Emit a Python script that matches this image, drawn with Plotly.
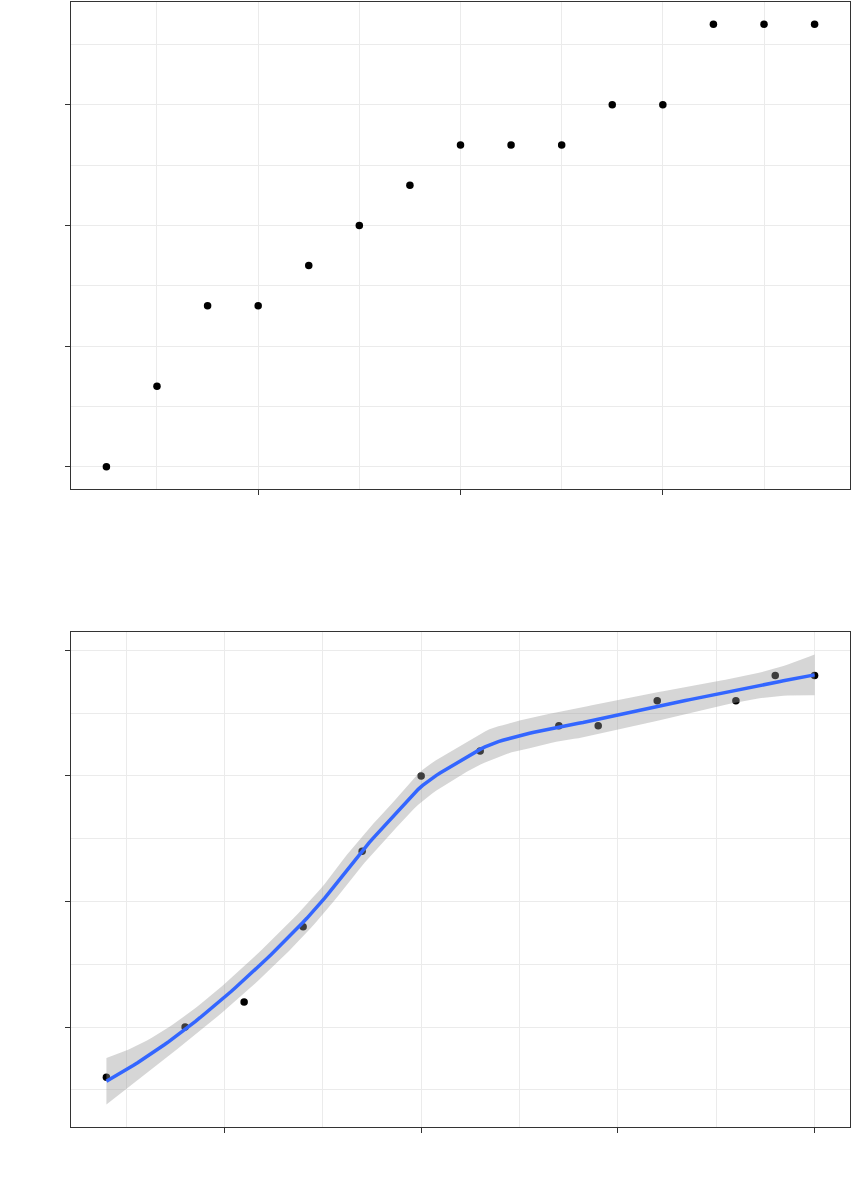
import numpy as np
import plotly.graph_objects as go

# ---------------- data ----------------
top_x = [1, 2, 3, 4, 5, 6, 7, 8, 9, 10, 11, 12, 13, 14, 15]
top_y = [0, 2, 4, 4, 5, 6, 7, 8, 8, 8, 9, 9, 11, 11, 11]
top_xticks = [4, 8, 12]
top_xminor = [2, 6, 10, 14]
top_yticks = [0, 3, 6, 9]
top_yminor = [1.5, 4.5, 7.5, 10.5]

bot_x = [4, 8, 11, 14, 17, 20, 23, 27, 29, 32, 36, 38, 40]
bot_y = [8, 10, 11, 14, 17, 20, 21, 22, 22, 23, 23, 24, 24]
bot_xticks = [10, 20, 30, 40]
bot_xminor = [5, 15, 25, 35]
bot_yticks = [10, 15, 20, 25]
bot_yminor = [7.5, 12.5, 17.5, 22.5]


# ---------------- loess (span 0.75, degree 2), as geom_smooth ----------------
def loess_operator(x, x0, span=0.75):
    x = np.asarray(x, float)
    n = len(x)
    q = int(np.floor(n * span))
    rows = []
    for p in np.atleast_1d(x0):
        d = np.abs(x - p)
        h = np.sort(d)[q - 1]
        u = np.clip(d / h, 0, 1)
        w = (1 - u ** 3) ** 3
        X = np.column_stack([np.ones(n), x - p, (x - p) ** 2])
        XtW = X.T * w
        A = XtW @ X
        rows.append(np.linalg.solve(A, XtW)[0])
    return np.array(rows)


def t_quantile(p, df):
    # normal quantile (Acklam) + Cornish-Fisher expansion for Student t
    a = [-3.969683028665376e+01, 2.209460984245205e+02, -2.759285104469687e+02,
         1.383577518672690e+02, -3.066479806614716e+01, 2.506628277459239e+00]
    b = [-5.447609879822406e+01, 1.615858368580409e+02, -1.556989798598866e+02,
         6.680131188771972e+01, -1.328068155288572e+01]
    c = [-7.784894002430293e-03, -3.223964580411365e-01, -2.400758277161838e+00,
         -2.549732539343734e+00, 4.374664141464968e+00, 2.938163982698783e+00]
    dd = [7.784695709041462e-03, 3.224671290700398e-01, 2.445134137142996e+00,
          3.754408661907416e+00]
    plow = 0.02425
    if p > 1 - plow:
        qq = np.sqrt(-2 * np.log(1 - p))
        z = -(((((c[0]*qq+c[1])*qq+c[2])*qq+c[3])*qq+c[4])*qq+c[5]) / \
            ((((dd[0]*qq+dd[1])*qq+dd[2])*qq+dd[3])*qq+1)
    else:
        qq = p - 0.5
        r = qq * qq
        z = (((((a[0]*r+a[1])*r+a[2])*r+a[3])*r+a[4])*r+a[5])*qq / \
            (((((b[0]*r+b[1])*r+b[2])*r+b[3])*r+b[4])*r+1)
    g1 = (z**3 + z) / 4
    g2 = (5*z**5 + 16*z**3 + 3*z) / 96
    g3 = (3*z**7 + 19*z**5 + 17*z**3 - 15*z) / 384
    g4 = (79*z**9 + 776*z**7 + 1482*z**5 - 1920*z**3 - 945*z) / 92160
    return z + g1/df + g2/df**2 + g3/df**3 + g4/df**4


bx = np.asarray(bot_x, float)
by = np.asarray(bot_y, float)
L = loess_operator(bx, bx)
resid = by - L @ by
IL = np.eye(len(bx)) - L
M = IL.T @ IL
one_delta = np.trace(M)
two_delta = np.trace(M @ M)
sigma = np.sqrt(np.sum(resid ** 2) / one_delta)
df = one_delta ** 2 / two_delta

xs = np.linspace(bx.min(), bx.max(), 160)
Ls = loess_operator(bx, xs)
fit = Ls @ by
se = sigma * np.sqrt(np.sum(Ls ** 2, axis=1))
tq = t_quantile(0.975, df)
lo = fit - tq * se
hi = fit + tq * se


def expand(lo_v, hi_v, m=0.05):
    r = hi_v - lo_v
    return [lo_v - m * r, hi_v + m * r]


# ---------------- figure ----------------
fig = go.Figure()

fig.add_trace(go.Scatter(x=top_x, y=top_y, mode="markers",
                         marker=dict(color="black", size=7.5),
                         xaxis="x", yaxis="y", showlegend=False,
                         hoverinfo="skip"))

fig.add_trace(go.Scatter(x=bot_x, y=bot_y, mode="markers",
                         marker=dict(color="black", size=7.5),
                         xaxis="x2", yaxis="y2", showlegend=False,
                         hoverinfo="skip"))

fig.add_trace(go.Scatter(x=np.concatenate([xs, xs[::-1]]),
                         y=np.concatenate([hi, lo[::-1]]),
                         fill="toself", fillcolor="rgba(153,153,153,0.4)",
                         line=dict(width=0), mode="lines",
                         xaxis="x2", yaxis="y2", showlegend=False,
                         hoverinfo="skip"))

fig.add_trace(go.Scatter(x=xs, y=fit, mode="lines",
                         line=dict(color="#3366FF", width=3.5),
                         xaxis="x2", yaxis="y2", showlegend=False,
                         hoverinfo="skip"))

border = "#333333"
grid = "#EBEBEB"


def ax(rng, ticks, minor, domain, anchor):
    return dict(range=rng, domain=domain, anchor=anchor,
                tickmode="array", tickvals=ticks, showticklabels=False,
                ticks="outside", ticklen=5, tickwidth=1.3, tickcolor=border,
                showgrid=True, gridcolor=grid, gridwidth=1.3,
                minor=dict(tickmode="array", tickvals=minor, showgrid=True,
                           gridcolor=grid, gridwidth=0.7, ticks=""),
                showline=True, linecolor=border, linewidth=1.3, mirror=True,
                zeroline=False)


top_dom = [(1127 - 489) / 1125, 1.0]
bot_dom = [0.0, (1127 - 632) / 1125]

fig.update_layout(
    width=853, height=1186,
    margin=dict(l=71, r=3, t=2, b=59),
    paper_bgcolor="white", plot_bgcolor="white",
    showlegend=False,
    xaxis=ax(expand(min(top_x), max(top_x)), top_xticks, top_xminor, [0, 1], "y"),
    yaxis=ax(expand(min(top_y), max(top_y)), top_yticks, top_yminor, top_dom, "x"),
    xaxis2=ax(expand(min(bot_x), max(bot_x)), bot_xticks, bot_xminor, [0, 1], "y2"),
    yaxis2=ax(expand(min(lo.min(), by.min()), max(hi.max(), by.max())),
              bot_yticks, bot_yminor, bot_dom, "x2"),
)

fig.write_html(
    "out.html",
    config={"displayModeBar": False},
    post_script="document.body.style.margin='0';document.body.style.overflow='hidden';",
)
